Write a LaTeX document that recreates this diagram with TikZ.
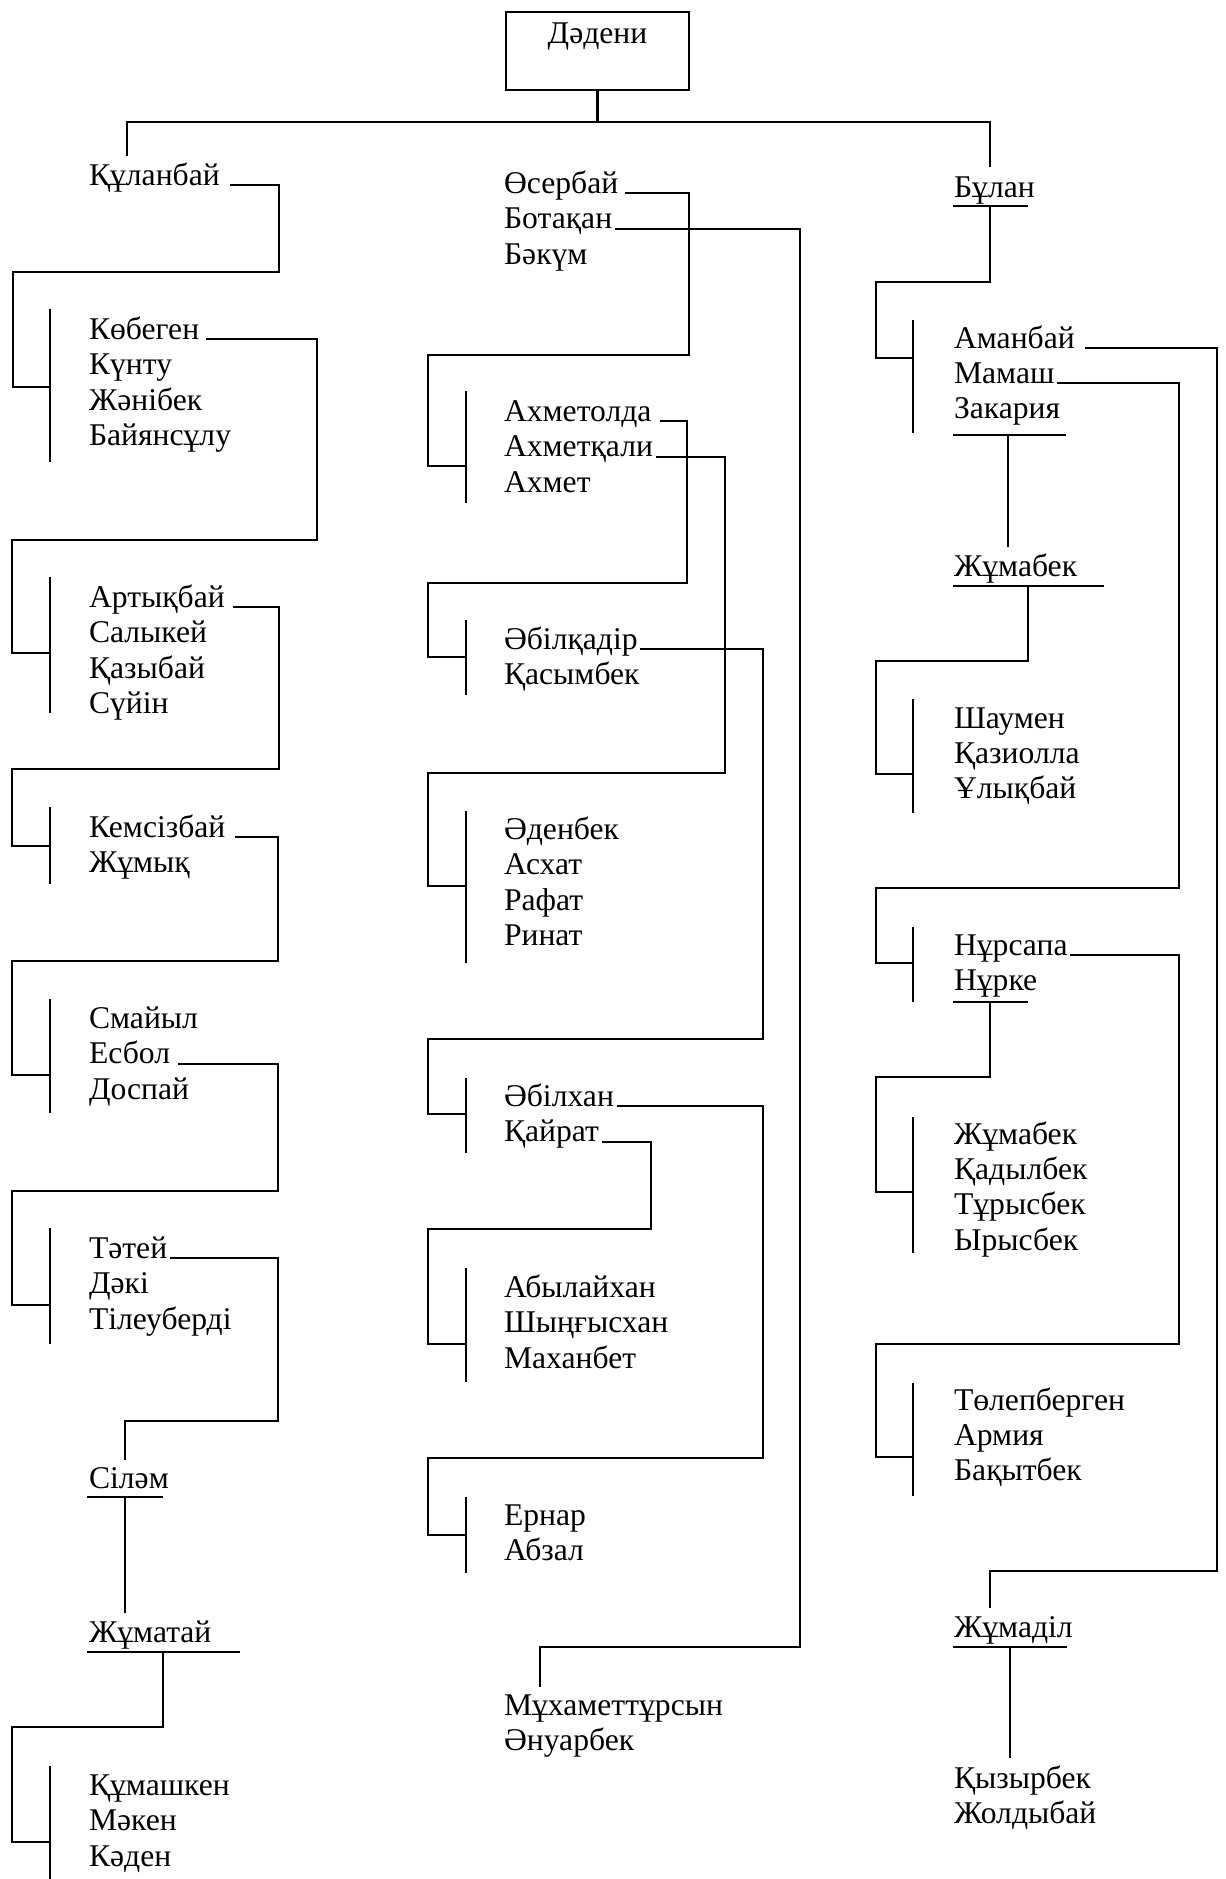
\documentclass[tikz,border=0pt]{standalone}
\usepackage{fontspec}
\setmainfont{Liberation Serif}
\usetikzlibrary{calc}

\tikzset{
  person/.style={anchor=base west, inner sep=0pt, font=\fontsize{18}{21}\selectfont},
  rootbox/.style={draw, anchor=north, inner ysep=0pt, minimum width=3.66cm,
    text height=0.62cm, text depth=0.94cm, font=\fontsize{18}{21}\selectfont},
}

\begin{document}
\begin{tikzpicture}[x=0.02cm, y=-0.02cm, line width=1.2pt]
\useasboundingbox (0,0) rectangle (1226,1879);

% Root
\node[rootbox] (root) at (597.5,11) {Дәдени};
\coordinate (fork) at (597.5,122);

% Left column
\node[person] (kul) at (88,185) {Құланбай};
\foreach \t [count=\i from 0] in {Көбеген,Күнту,Жәнібек,Байянсұлу}
  \node[person] (kob\i) at (88,{339+35.6*\i}) {\t};
\foreach \t [count=\i from 0] in {Артықбай,Салыкей,Қазыбай,Сүйін}
  \node[person] (art\i) at (88,{607+35.6*\i}) {\t};
\foreach \t [count=\i from 0] in {Кемсізбай,Жұмық}
  \node[person] (kem\i) at (88,{837+35.6*\i}) {\t};
\foreach \t [count=\i from 0] in {Смайыл,Есбол,Доспай}
  \node[person] (sma\i) at (88,{1028+35.6*\i}) {\t};
\foreach \t [count=\i from 0] in {Тәтей,Дәкі,Тілеуберді}
  \node[person] (tat\i) at (88,{1258+35.6*\i}) {\t};
\node[person] (sil) at (88,1488) {Сіләм};
\node[person] (zhu) at (88,1642) {Жұматай};
\foreach \t [count=\i from 0] in {Құмашкен,Мәкен,Кәден}
  \node[person] (kum\i) at (88,{1795+35.6*\i}) {\t};

% Middle column
\foreach \t [count=\i from 0] in {Өсербай,Ботақан,Бәкүм}
  \node[person] (ose\i) at (503,{193+35.6*\i}) {\t};
\foreach \t [count=\i from 0] in {Ахметолда,Ахметқали,Ахмет}
  \node[person] (akh\i) at (503,{421+35.6*\i}) {\t};
\foreach \t [count=\i from 0] in {Әбілқадір,Қасымбек}
  \node[person] (abq\i) at (503,{649+35.6*\i}) {\t};
\foreach \t [count=\i from 0] in {Әденбек,Асхат,Рафат,Ринат}
  \node[person] (ade\i) at (503,{839+35.6*\i}) {\t};
\foreach \t [count=\i from 0] in {Әбілхан,Қайрат}
  \node[person] (abk\i) at (503,{1106+35.6*\i}) {\t};
\foreach \t [count=\i from 0] in {Абылайхан,Шыңғысхан,Маханбет}
  \node[person] (aby\i) at (503,{1297+35.6*\i}) {\t};
\foreach \t [count=\i from 0] in {Ернар,Абзал}
  \node[person] (ern\i) at (503,{1525+35.6*\i}) {\t};
\foreach \t [count=\i from 0] in {Мұхаметтұрсын,Әнуарбек}
  \node[person] (mukh\i) at (503,{1715+35.6*\i}) {\t};

% Right column
\node[person] (bul) at (953,197) {Бұлан};
\foreach \t [count=\i from 0] in {Аманбай,Мамаш,Закария}
  \node[person] (ama\i) at (953,{348+35.3*\i}) {\t};
\node[person] (zhb) at (953,576) {Жұмабек};
\foreach \t [count=\i from 0] in {Шаумен,Қазиолла,Ұлықбай}
  \node[person] (sha\i) at (953,{728+35.3*\i}) {\t};
\foreach \t [count=\i from 0] in {Нұрсапа,Нұрке}
  \node[person] (nur\i) at (953,{955+35.6*\i}) {\t};
\foreach \t [count=\i from 0] in {Жұмабек,Қадылбек,Тұрысбек,Ырысбек}
  \node[person] (zhm\i) at (953,{1144+35.4*\i}) {\t};
\foreach \t [count=\i from 0] in {Төлепберген,Армия,Бақытбек}
  \node[person] (tol\i) at (953,{1410+35*\i}) {\t};
\node[person] (zhd) at (953,1637) {Жұмаділ};
\foreach \t [count=\i from 0] in {Қызырбек,Жолдыбай}
  \node[person] (kyz\i) at (953,{1788+35*\i}) {\t};

% Underlines
\draw ($(sil.base west)+(-1,9)$) -- ++(76,0);
\draw ($(zhu.base west)+(-1,10)$) -- ++(153,0);
\draw ($(bul.base west)+(0,9)$) -- ++(75,0);
\draw ($(ama2.base west)+(0,16)$) -- ++(113,0);
\draw ($(zhb.base west)+(0,10)$) -- ++(151,0);
\draw ($(nur1.base west)+(0,11)$) -- ++(75,0);
\draw ($(zhd.base west)+(0,10)$) -- ++(114,0);

% Drop and underline points
\coordinate (kul-top) at ($(kul.base west)+(39,-29)$);
\coordinate (bul-top) at ($(bul.base west)+(37,-30)$);
\coordinate (bul-u) at ($(bul.base west)+(37,9)$);
\coordinate (sil-top) at ($(sil.base west)+(37,-28)$);
\coordinate (sil-u) at ($(sil.base west)+(37,9)$);
\coordinate (zhu-top) at ($(zhu.base west)+(37,-29)$);
\coordinate (zhu-u) at ($(zhu.base west)+(75,10)$);
\coordinate (mukh-top) at ($(mukh0.base west)+(37,-28)$);
\coordinate (zak-u) at ($(ama2.base west)+(55,16)$);
\coordinate (zhb-top) at ($(zhb.base west)+(55,-29)$);
\coordinate (zhb-u) at ($(zhb.base west)+(75,10)$);
\coordinate (nurke-u) at ($(nur1.base west)+(37,11)$);
\coordinate (zhd-top) at ($(zhd.base west)+(37,-29)$);
\coordinate (zhd-u) at ($(zhd.base west)+(57,10)$);
\coordinate (kyz-top) at ($(kyz0.base west)+(57,-30)$);

% Group bars
\foreach \g/\x/\a/\b/\j in {
    kob/50/309/462/387, art/50/577/713/653, kem/50/807/884/846,
    sma/50/999/1113/1075, tat/50/1228/1344/1305, kum/50/1766/1879/1842,
    akh/466/391/503/466, abq/466/620/695/657, ade/466/811/963/886,
    abk/466/1078/1153/1114, aby/466/1268/1382/1344, ern/466/1497/1573/1535,
    ama/913/320/433/358, sha/913/699/813/774, nur/913/927/1002/963,
    zhm/913/1117/1253/1192, tol/913/1383/1496/1457} {
  \draw (\x,\a) -- (\x,\b);
  \coordinate (\g-j) at (\x,\j);
}

% Root to the three sons
\draw (root.south) -- (fork);
\draw (kul-top) |- (fork) -| (bul-top);

% Left branch
\draw ([xshift=5pt]kul.base east) -| (279,272) -| (13,387) -- (kob-j);
\draw ([xshift=3pt]kob0.base east) -| (317,540) -| (12,653) -- (art-j);
\draw ([xshift=4pt]art0.base east) -| (279,769) -| (12,846) -- (kem-j);
\draw ([xshift=5pt]kem0.base east) -| (278,961) -| (12,1075) -- (sma-j);
\draw ([xshift=4pt]sma1.base east) -| (278,1191) -| (12,1305) -- (tat-j);
\draw ([xshift=1pt]tat0.base east) -| (278,1421) -| (sil-top);
\draw (sil-u) -- (zhu-top);
\draw (zhu-u) |- (12,1727) |- (kum-j);

% Middle branch
\draw ([xshift=3pt]ose0.base east) -| (689,355) -| (428,466) -- (akh-j);
\draw ([xshift=1pt]ose1.base east) -| (800,1647) -| (mukh-top);
\draw ([xshift=4pt]akh0.base east) -| (687,583) -| (428,657) -- (abq-j);
\draw ([xshift=1pt]akh1.base east) -| (725,773) -| (428,886) -- (ade-j);
\draw ([xshift=1pt]abq0.base east) -| (763,1039) -| (428,1114) -- (abk-j);
\draw ([xshift=1pt]abk0.base east) -| (763,1458) -| (428,1535) -- (ern-j);
\draw ([xshift=1pt]abk1.base east) -| (651,1229) -| (428,1344) -- (aby-j);

% Right branch
\draw (bul-u) |- (876,282) |- (ama-j);
\draw (zak-u) -- (zhb-top);
\draw (zhb-u) |- (876,661) |- (sha-j);
\draw ([xshift=1pt]ama1.base east) -| (1179,888) -| (876,963) -- (nur-j);
\draw ([xshift=1pt]nur0.base east) -| (1179,1344) -| (876,1457) -- (tol-j);
\draw (nurke-u) |- (876,1077) |- (zhm-j);
\draw ([xshift=5pt]ama0.base east) -| (1217,1571) -| (zhd-top);
\draw (zhd-u) -- (kyz-top);
\end{tikzpicture}
\end{document}
